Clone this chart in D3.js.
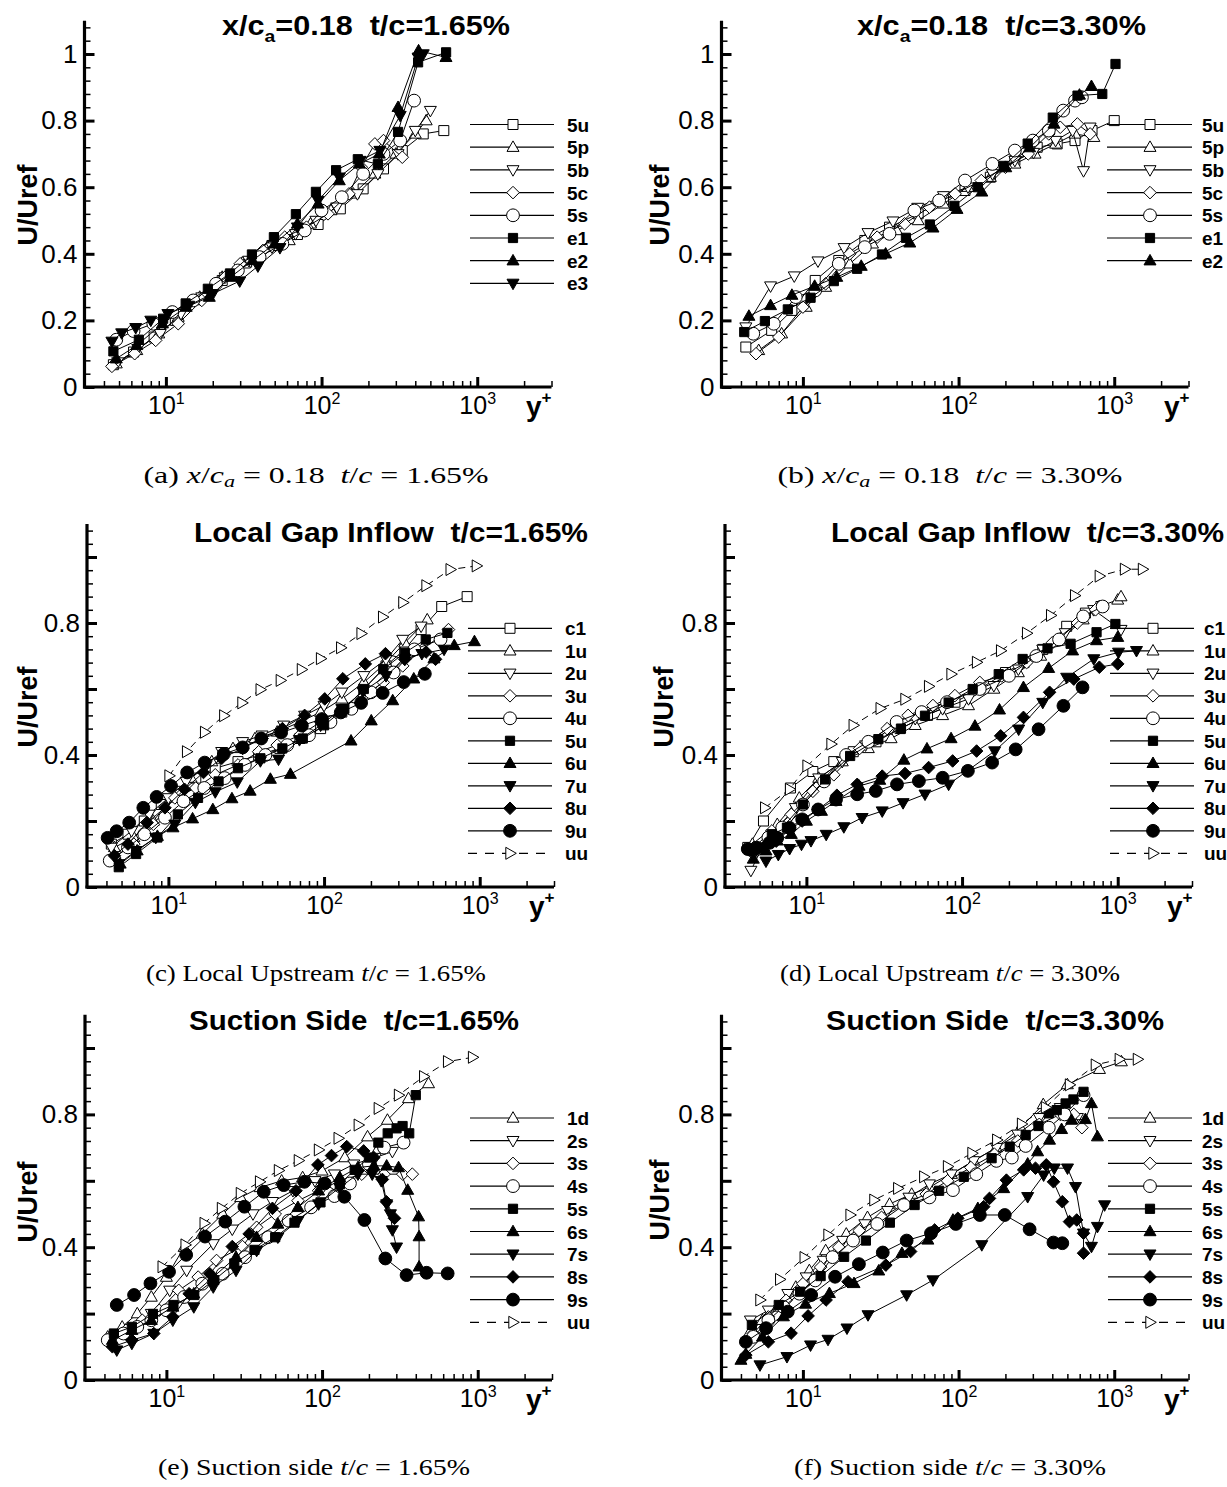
<!DOCTYPE html>
<html><head><meta charset="utf-8">
<script src="https://cdn.jsdelivr.net/npm/d3@7"></script>
<style>body{margin:0;background:#fff} svg{display:block} text{white-space:pre}</style>
</head><body>
<svg id="c" width="1227" height="1487"></svg>
<script>
// ---------------- DATA ([y+, U/Uref]) ----------------
// (a) x/c_a=0.18  t/c=1.65%
const A_5u=[[4.6,0.067],[6.2,0.105],[8.4,0.15],[11.5,0.2],[16,0.262],[23,0.32],[33,0.375],[48,0.425],[70,0.458],[95,0.488],[132,0.535],[185,0.595],[250,0.655],[330,0.71],[450,0.76],[610,0.77]];
const A_5p=[[4.8,0.07],[6.5,0.11],[9,0.16],[12,0.21],[16.5,0.27],[23,0.33],[32,0.37],[45,0.42],[62,0.44],[85,0.49],[115,0.53],[160,0.58],[220,0.64],[300,0.7],[400,0.76],[470,0.8]];
const A_5b=[[4.9,0.075],[6.6,0.115],[9.2,0.16],[12.5,0.22],[17,0.27],[24,0.33],[34,0.38],[48,0.42],[68,0.46],[92,0.5],[125,0.54],[170,0.58],[230,0.64],[310,0.7],[400,0.77],[500,0.83]];
const A_5c=[[4.5,0.062],[6.3,0.1],[8.6,0.14],[12,0.19],[17,0.26],[24,0.33],[30,0.37],[42,0.41],[58,0.45],[80,0.48],[110,0.52],[150,0.58],[180,0.66],[220,0.73],[250,0.74],[330,0.69]];
const A_5s=[[4.8,0.142],[6.2,0.168],[8.3,0.19],[11,0.225],[15,0.26],[21,0.31],[29,0.35],[40,0.39],[56,0.43],[78,0.47],[100,0.53],[135,0.57],[185,0.64],[250,0.7],[320,0.74],[393,0.86]];
const A_e1=[[4.6,0.107],[6.7,0.142],[9.6,0.205],[13.4,0.251],[18.6,0.295],[25.8,0.341],[35.7,0.398],[49.4,0.45],[68.4,0.519],[92,0.586],[124,0.651],[171,0.684],[230,0.669],[310,0.766],[417,0.975],[631,1.005]];
const A_e2=[[4.8,0.085],[6.5,0.125],[9.5,0.19],[13.5,0.24],[19,0.27],[26,0.33],[36,0.38],[50,0.43],[70,0.49],[95,0.55],[130,0.62],[175,0.67],[235,0.7],[310,0.84],[420,1.01],[630,0.99]];
const A_e3=[[4.5,0.137],[5.2,0.162],[6.4,0.178],[8,0.2],[10.3,0.22],[14,0.245],[20,0.28],[29.8,0.318],[39,0.363],[54,0.418],[70,0.48],[95,0.56],[130,0.63],[177,0.68],[237,0.71],[320,0.815],[417,0.99],[450,1.0]];
// (b) x/c_a=0.18  t/c=3.30%
const B_5u=[[4.3,0.12],[6.3,0.17],[8.5,0.23],[12,0.32],[17,0.38],[25,0.44],[36,0.48],[55,0.52],[80,0.56],[110,0.59],[160,0.63],[230,0.68],[320,0.72],[430,0.73],[560,0.74],[720,0.77],[1000,0.8]];
const B_5p=[[5.2,0.11],[7.3,0.16],[10.5,0.24],[14,0.3],[20,0.37],[28,0.43],[40,0.47],[55,0.5],[80,0.55],[115,0.6],[160,0.63],[230,0.67],[310,0.7],[420,0.73],[560,0.76],[740,0.75]];
const B_5b=[[4.3,0.18],[6.2,0.303],[8.8,0.333],[12.5,0.378],[18.4,0.418],[26.2,0.463],[37.9,0.498],[54.7,0.539],[80,0.574],[115,0.6],[165,0.64],[230,0.68],[303,0.704],[420,0.74],[540,0.77],[635,0.649],[700,0.78]];
const B_5c=[[5,0.1],[7,0.15],[10,0.24],[14,0.31],[20,0.4],[30,0.45],[45,0.49],[65,0.54],[95,0.58],[140,0.62],[200,0.66],[280,0.7],[380,0.76],[450,0.78],[580,0.79],[700,0.76]];
const B_5s=[[4.8,0.16],[6.5,0.19],[9,0.27],[12,0.29],[17,0.37],[25,0.42],[36,0.46],[52,0.53],[75,0.56],[110,0.62],[165,0.67],[230,0.71],[300,0.74],[380,0.77],[470,0.83],[560,0.86],[620,0.87]];
const B_e1=[[4.2,0.165],[5.7,0.198],[8,0.233],[11.2,0.268],[15.8,0.318],[22.3,0.355],[32.2,0.398],[45.9,0.448],[65.4,0.488],[94,0.544],[133,0.6],[195,0.664],[278,0.731],[403,0.809],[581,0.875],[838,0.88],[1019,0.97]];
const B_e2=[[4.5,0.213],[6.2,0.245],[8.5,0.276],[11.9,0.303],[16.5,0.33],[23.7,0.363],[34,0.4],[48.6,0.433],[68.5,0.478],[97.7,0.534],[141,0.586],[201,0.659],[286,0.719],[410,0.79],[598,0.877],[714,0.903]];
// (c) Local gap inflow t/c=1.65%
const C_c1=[[4.3,0.13],[5.5,0.16],[7,0.2],[9,0.25],[11.5,0.29],[15,0.33],[20,0.36],[28,0.38],[38,0.4],[52,0.42],[70,0.45],[95,0.48],[130,0.53],[180,0.6],[250,0.67],[330,0.72],[420,0.78],[570,0.85],[830,0.88]];
const C_1u=[[4.5,0.12],[6,0.15],[8,0.2],[10.5,0.27],[14,0.33],[19,0.38],[26,0.42],[36,0.45],[50,0.47],[70,0.5],[95,0.53],[130,0.57],[180,0.62],[250,0.68],[330,0.74],[460,0.81]];
const C_2u=[[4.3,0.12],[5.8,0.17],[7.5,0.22],[10,0.27],[13,0.32],[17.5,0.37],[22,0.41],[30,0.44],[40,0.46],[55,0.49],[75,0.52],[100,0.55],[130,0.59],[180,0.64],[250,0.69],[320,0.75],[420,0.79]];
const C_3u=[[4.5,0.09],[6,0.13],[8,0.19],[11,0.27],[15,0.3],[20,0.34],[28,0.37],[38,0.41],[50,0.43],[70,0.46],[95,0.5],[130,0.53],[180,0.58],[240,0.62],[320,0.67],[430,0.72],[630,0.78]];
const C_4u=[[4.2,0.08],[5.5,0.12],[7,0.16],[9.5,0.21],[12.5,0.26],[17,0.3],[23,0.33],[31,0.37],[42,0.4],[58,0.43],[80,0.46],[110,0.5],[150,0.54],[200,0.59],[280,0.65],[380,0.72],[560,0.75]];
const C_5u=[[4.8,0.06],[6.2,0.1],[8.5,0.15],[11.5,0.22],[15.5,0.27],[21,0.32],[28,0.36],[39,0.39],[54,0.42],[73,0.45],[100,0.49],[135,0.54],[180,0.6],[240,0.66],[330,0.71],[450,0.75],[620,0.77]];
const C_6u=[[4.9,0.07],[6.3,0.11],[8.5,0.154],[10.7,0.18],[14.3,0.207],[19.3,0.235],[25.6,0.268],[33.5,0.291],[45.2,0.327],[60.8,0.342],[149,0.443],[201,0.504],[276,0.565],[377,0.631],[508,0.692],[686,0.732],[925,0.744]];
const C_7u=[[4.8,0.07],[6.2,0.11],[8.3,0.15],[11,0.19],[14.9,0.256],[20,0.288],[27.7,0.318],[39,0.382],[51,0.387],[69.5,0.446],[95,0.49],[130,0.54],[178,0.592],[250,0.64],[330,0.69],[425,0.707],[590,0.72]];
const C_8u=[[4.5,0.095],[5.5,0.13],[7.3,0.195],[9.5,0.24],[12.7,0.296],[16.8,0.347],[22,0.39],[30,0.42],[40,0.45],[54,0.48],[75,0.52],[101,0.57],[132,0.631],[184,0.676],[248,0.707],[330,0.69],[452,0.712],[520,0.69]];
const C_9u=[[4.07,0.149],[4.65,0.169],[5.6,0.195],[6.9,0.24],[8.4,0.273],[10.4,0.306],[13.2,0.347],[17.1,0.377],[22.7,0.403],[30,0.423],[39.5,0.45],[53,0.468],[72,0.489],[97,0.509],[128,0.529],[173,0.558],[238,0.588],[325,0.621],[444,0.646]];
const C_uu=[[10.1,0.337],[13.1,0.41],[17.1,0.469],[22.7,0.519],[29.7,0.558],[38.9,0.598],[52.4,0.626],[71.6,0.659],[95,0.692],[128,0.725],[173,0.768],[238,0.818],[321,0.862],[452,0.913],[646,0.962],[952,0.973]];
// (d) Local gap inflow t/c=3.30%
const D_c1=[[4.2,0.12],[5.3,0.2],[7.9,0.3],[11,0.35],[15,0.38],[20,0.41],[28,0.44],[40,0.48],[60,0.52],[90,0.56],[130,0.6],[190,0.65],[250,0.68],[330,0.72],[470,0.79],[620,0.83],[780,0.85]];
const D_1u=[[4.5,0.13],[6.5,0.19],[9,0.27],[12,0.33],[17,0.38],[25,0.42],[35,0.45],[50,0.49],[75,0.52],[110,0.55],[160,0.6],[230,0.65],[320,0.7],[430,0.75],[600,0.81],[760,0.85],[1000,0.87],[1050,0.88]];
const D_2u=[[4.4,0.05],[5.2,0.12],[6,0.16],[8.5,0.24],[12,0.33],[17,0.38],[24,0.43],[35,0.48],[50,0.51],[75,0.54],[110,0.57],[160,0.61],[230,0.66],[330,0.72],[460,0.77],[700,0.84],[1050,0.78]];
const D_3u=[[4.6,0.12],[6,0.17],[8,0.22],[11,0.29],[15,0.34],[22,0.42],[33,0.48],[45,0.52],[65,0.55],[90,0.58],[130,0.62],[180,0.64],[260,0.68],[380,0.74],[550,0.8],[720,0.84]];
const D_4u=[[4.5,0.11],[5.7,0.15],[7,0.18],[9.5,0.25],[13,0.32],[18,0.4],[25,0.44],[38,0.5],[55,0.53],[80,0.56],[130,0.6],[200,0.64],[300,0.7],[420,0.75],[600,0.82],[800,0.85]];
const D_5u=[[4.5,0.11],[6,0.16],[7.5,0.18],[9.5,0.25],[13.2,0.326],[19.1,0.397],[29,0.448],[40.5,0.48],[57.8,0.519],[82,0.559],[117,0.6],[172,0.645],[245,0.691],[354,0.723],[498,0.737],[731,0.772],[966,0.797]];
const D_6u=[[4.56,0.085],[5.5,0.11],[6.5,0.14],[8,0.16],[10,0.2],[12.5,0.23],[15.5,0.26],[21.8,0.306],[29.6,0.324],[42.3,0.385],[59.5,0.419],[85,0.45],[121,0.488],[174,0.537],[248,0.605],[360,0.663],[513,0.716],[731,0.747],[1000,0.757]];
const D_7u=[[5.5,0.078],[6.6,0.098],[7.8,0.116],[9.3,0.129],[10.7,0.14],[13.4,0.159],[17.4,0.182],[22.8,0.21],[30.7,0.23],[41.8,0.255],[57.8,0.281],[82,0.311],[162,0.412],[231,0.478],[330,0.559],[470,0.635],[702,0.691],[1012,0.711],[1320,0.716]];
const D_8u=[[4.4,0.113],[5.3,0.119],[6.4,0.139],[7.8,0.174],[9.4,0.2],[11.9,0.235],[15.7,0.278],[21.2,0.311],[30.7,0.336],[43,0.344],[61,0.362],[87,0.382],[124,0.412],[177,0.458],[248,0.514],[365,0.59],[522,0.63],[762,0.666],[1000,0.676]];
const D_9u=[[4.2,0.115],[4.8,0.119],[5.8,0.134],[6.5,0.149],[7.8,0.179],[9.4,0.205],[11.9,0.235],[15.5,0.265],[21.2,0.281],[27.9,0.291],[38.2,0.311],[52.8,0.321],[75,0.331],[109,0.352],[156,0.377],[221,0.417],[310,0.478],[448,0.549],[594,0.605]];
const D_uu=[[5.4,0.24],[7.8,0.296],[10.1,0.367],[14.4,0.433],[20,0.49],[29.8,0.541],[43,0.569],[61,0.608],[85,0.645],[124,0.681],[177,0.716],[260,0.769],[371,0.823],[529,0.883],[762,0.942],[1106,0.963],[1443,0.963]];
// (e) Suction side t/c=1.65%
const E_1d=[[4.2,0.13],[5.2,0.16],[6.5,0.2],[8,0.25],[10,0.31],[13,0.4],[17,0.44],[23,0.5],[30,0.55],[40,0.58],[55,0.6],[75,0.61],[100,0.63],[140,0.67],[196,0.733],[263,0.783],[359,0.848],[483,0.893]];
const E_2s=[[4.5,0.12],[6,0.15],[8,0.2],[10.5,0.27],[13.5,0.33],[20,0.41],[26.5,0.454],[36,0.5],[48,0.537],[65,0.57],[90,0.6],[120,0.62],[160,0.65],[220,0.67],[283,0.688]];
const E_3s=[[4.4,0.13],[5.5,0.15],[7,0.18],[9,0.21],[12,0.27],[16,0.31],[21,0.36],[30.8,0.402],[38,0.46],[50,0.5],[70,0.54],[95,0.57],[130,0.6],[180,0.62],[250,0.62],[330,0.62],[380,0.62]];
const E_4s=[[4.2,0.12],[5.3,0.14],[6.5,0.16],[8,0.18],[10,0.21],[13,0.25],[17,0.29],[23,0.32],[32,0.37],[45,0.43],[61,0.48],[85,0.52],[120,0.554],[151,0.592],[200,0.65],[250,0.7],[334,0.715]];
const E_5s=[[4.6,0.14],[6,0.16],[8.2,0.199],[11.1,0.226],[15.1,0.256],[20.3,0.301],[27.3,0.351],[36.8,0.392],[50,0.43],[66.5,0.474],[97.7,0.535],[130,0.59],[162,0.633],[200,0.67],[230,0.715],[264,0.743],[301,0.758],[329,0.765],[363,0.743],[400,0.858]];
const E_6s=[[4.5,0.12],[6,0.15],[8,0.18],[11,0.22],[15,0.26],[20,0.31],[28,0.37],[38,0.43],[52,0.47],[70,0.52],[95,0.57],[130,0.61],[170,0.64],[215,0.645],[260,0.645],[310,0.64],[355,0.572],[417,0.492],[420,0.432],[420,0.341]];
const E_7s=[[4.8,0.09],[6,0.11],[8.3,0.14],[11,0.18],[15,0.22],[20,0.28],[28,0.33],[38,0.39],[52,0.43],[70,0.48],[95,0.53],[130,0.58],[170,0.62],[210,0.62],[240,0.6],[260,0.53],[275,0.5],[283,0.452],[301,0.4]];
const E_8s=[[4.5,0.1],[6,0.12],[8.3,0.14],[11,0.19],[14,0.26],[19,0.32],[26.5,0.402],[34,0.44],[48,0.517],[68,0.57],[94,0.648],[115,0.676],[144,0.703],[185,0.69],[215,0.67],[244,0.604],[259,0.537],[292,0.487]];
const E_9s=[[4.8,0.226],[6.2,0.256],[7.9,0.291],[10.4,0.326],[13.4,0.377],[17.7,0.432],[23.9,0.477],[31.7,0.522],[42.2,0.567],[56.7,0.587],[77,0.597],[104,0.592],[139,0.552],[187,0.482],[255,0.366],[349,0.316],[469,0.323],[641,0.321]];
const E_uu=[[9.4,0.341],[13.2,0.407],[17.5,0.472],[22.6,0.517],[29.9,0.562],[39.7,0.597],[52.5,0.631],[70.5,0.661],[94.9,0.693],[127,0.728],[171,0.768],[230,0.818],[310,0.858],[450,0.914],[641,0.959],[927,0.972]];
// (f) Suction side t/c=3.30%
const F_1d=[[4.5,0.14],[5.5,0.18],[7,0.22],[9,0.28],[11,0.33],[14,0.39],[19,0.44],[26,0.49],[36,0.53],[50,0.56],[65,0.58],[90,0.62],[125,0.66],[175,0.7],[250,0.76],[350,0.83],[500,0.89],[804,0.936],[1112,0.959]];
const F_2s=[[4.6,0.18],[6,0.21],[8,0.26],[10.5,0.31],[13.5,0.36],[18,0.42],[25,0.47],[35,0.51],[48,0.55],[65,0.59],[90,0.62],[125,0.66],[175,0.7],[240,0.74],[330,0.79],[450,0.82],[580,0.79]];
const F_3s=[[4.8,0.14],[6,0.19],[7.8,0.24],[10,0.29],[13,0.34],[17,0.4],[23,0.45],[32,0.49],[45,0.53],[62,0.56],[85,0.6],[120,0.64],[170,0.68],[240,0.72],[330,0.77],[450,0.8],[550,0.8],[620,0.76]];
const F_4s=[[4.8,0.13],[6,0.18],[7.5,0.22],[9.5,0.26],[12,0.3],[15.5,0.37],[21,0.42],[30,0.47],[44.6,0.527],[65,0.55],[92,0.572],[130,0.62],[175,0.66],[220,0.67],[270,0.705],[380,0.76],[480,0.8],[635,0.858]];
const F_5s=[[4.7,0.166],[7,0.226],[9.6,0.266],[13,0.313],[18.4,0.371],[25.4,0.42],[36.2,0.474],[52.2,0.527],[75,0.57],[108,0.612],[163,0.668],[213,0.703],[270,0.738],[326,0.765],[380,0.803],[427,0.813],[487,0.833],[547,0.845],[635,0.868]];
const F_6s=[[4,0.06],[4.3,0.078],[5.5,0.13],[7.5,0.191],[10.4,0.229],[14.8,0.261],[21.3,0.291],[30.7,0.329],[43.3,0.382],[63.5,0.422],[92,0.482],[133,0.517],[195,0.577],[278,0.651],[322,0.688],[384,0.723],[459,0.755],[532,0.783],[653,0.785],[714,0.833],[780,0.733]];
const F_7s=[[5.3,0.045],[7.9,0.07],[11.2,0.105],[14.5,0.122],[19.2,0.156],[26.2,0.196],[46.4,0.256],[68.5,0.301],[141,0.407],[278,0.552],[352,0.617],[412,0.638],[501,0.638],[564,0.582],[635,0.442],[714,0.402],[780,0.462],[867,0.527]];
const F_8s=[[4.3,0.075],[6,0.115],[8.4,0.141],[10.8,0.193],[14.1,0.241],[19.5,0.296],[34.1,0.346],[49.2,0.387],[70.2,0.452],[98.9,0.487],[145,0.522],[158,0.547],[203,0.602],[262,0.633],[312,0.638],[366,0.648],[407,0.597],[464,0.537],[516,0.477],[574,0.482],[635,0.442],[635,0.382]];
const F_9s=[[4.3,0.115],[5.8,0.156],[8,0.206],[11.3,0.256],[16.1,0.311],[22.9,0.349],[32.6,0.384],[46.4,0.42],[66.5,0.442],[96,0.47],[137,0.497],[198,0.497],[286,0.454],[407,0.414],[464,0.412]];
const F_uu=[[5.3,0.241],[7.1,0.303],[10.2,0.369],[14.5,0.437],[20.1,0.497],[28.6,0.542],[40.7,0.577],[59.8,0.612],[85,0.643],[122,0.683],[176,0.723],[254,0.771],[362,0.821],[516,0.889],[757,0.949],[1079,0.966],[1410,0.966]];

// tick values
const xMajor=[10,100,1000];
const xMinor=[4,5,6,7,8,9,20,30,40,50,60,70,80,90,200,300,400,500,600,700,800,900,2000,3000];
const yMajor=[0,0.2,0.4,0.6,0.8,1.0];
const yLabelTop=[0,0.2,0.4,0.6,0.8,1.0];
const yLabelLow=[0,0.4,0.8];
const yMinor=d3.range(0,1.1,0.04).filter(v=>Math.abs(v/0.2-Math.round(v/0.2))>1e-6);

// series styles
const S = {
  sq:{shape:'square',fill:false}, tu:{shape:'triUp',fill:false}, td:{shape:'triDown',fill:false},
  di:{shape:'diamond',fill:false}, ci:{shape:'circle',fill:false},
  SQ:{shape:'square',fill:true}, TU:{shape:'triUp',fill:true}, TD:{shape:'triDown',fill:true},
  DI:{shape:'diamond',fill:true}, CI:{shape:'circle',fill:true}, uu:{shape:'triRight',fill:false,dash:true}
};

const panels=[
 {title:[['x/c',''],['a','sub'],['=0.18  t/c=1.65%','']], tx:222, tw:288, ty:35,
  left:84.5, y0:387, pu:333, labels:yLabelTop, leg:{l1:470,l2:554,m:513,t:567,y:124.5,dy:22.7},
  ylab:[28,205], yp:[526,416],
  cap:[['(a) ',''],['x','i'],['/',''],['c','i'],['a','isub'],[' = 0.18  ',''],['t','i'],['/',''],['c','i'],[' = 1.65%','']], cx:316, cy:483, cw:345,
  series:[['5u',A_5u,S.sq],['5p',A_5p,S.tu],['5b',A_5b,S.td],['5c',A_5c,S.di],['5s',A_5s,S.ci],['e1',A_e1,S.SQ],['e2',A_e2,S.TU],['e3',A_e3,S.TD]]},
 {title:[['x/c',''],['a','sub'],['=0.18  t/c=3.30%','']], tx:857, tw:289, ty:35,
  left:721.5, y0:387, pu:333, labels:yLabelTop, leg:{l1:1107,l2:1192,m:1150,t:1202,y:124.5,dy:22.7},
  ylab:[660,205], yp:[1164,416],
  cap:[['(b) ',''],['x','i'],['/',''],['c','i'],['a','isub'],[' = 0.18  ',''],['t','i'],['/',''],['c','i'],[' = 3.30%','']], cx:950, cy:483, cw:345,
  series:[['5u',B_5u,S.sq],['5p',B_5p,S.tu],['5b',B_5b,S.td],['5c',B_5c,S.di],['5s',B_5s,S.ci],['e1',B_e1,S.SQ],['e2',B_e2,S.TU]]},
 {title:[['Local Gap Inflow  t/c=1.65%','']], tx:194, tw:394, ty:542,
  left:87, y0:887, pu:330, labels:yLabelLow, leg:{l1:468,l2:552,m:510,t:565,y:628.3,dy:22.5},
  ylab:[28,707], yp:[529,916],
  cap:[['(c) Local Upstream ',''],['t','i'],['/',''],['c','i'],[' = 1.65%','']], cx:316, cy:981, cw:340,
  series:[['c1',C_c1,S.sq],['1u',C_1u,S.tu],['2u',C_2u,S.td],['3u',C_3u,S.di],['4u',C_4u,S.ci],['5u',C_5u,S.SQ],['6u',C_6u,S.TU],['7u',C_7u,S.TD],['8u',C_8u,S.DI],['9u',C_9u,S.CI],['uu',C_uu,S.uu]]},
 {title:[['Local Gap Inflow  t/c=3.30%','']], tx:831, tw:393, ty:542,
  left:725, y0:887, pu:330, labels:yLabelLow, leg:{l1:1110,l2:1194,m:1153,t:1204,y:628.3,dy:22.5},
  ylab:[664,707], yp:[1167,916],
  cap:[['(d) Local Upstream ',''],['t','i'],['/',''],['c','i'],[' = 3.30%','']], cx:950, cy:981, cw:340,
  series:[['c1',D_c1,S.sq],['1u',D_1u,S.tu],['2u',D_2u,S.td],['3u',D_3u,S.di],['4u',D_4u,S.ci],['5u',D_5u,S.SQ],['6u',D_6u,S.TU],['7u',D_7u,S.TD],['8u',D_8u,S.DI],['9u',D_9u,S.CI],['uu',D_uu,S.uu]]},
 {title:[['Suction Side  t/c=1.65%','']], tx:189, tw:330, ty:1030,
  left:85, y0:1380, pu:332, labels:yLabelLow, leg:{l1:470,l2:554,m:513,t:567,y:1118,dy:22.7},
  ylab:[28,1202], yp:[526,1409],
  cap:[['(e) Suction side ',''],['t','i'],['/',''],['c','i'],[' = 1.65%','']], cx:314, cy:1475, cw:312,
  series:[['1d',E_1d,S.tu],['2s',E_2s,S.td],['3s',E_3s,S.di],['4s',E_4s,S.ci],['5s',E_5s,S.SQ],['6s',E_6s,S.TU],['7s',E_7s,S.TD],['8s',E_8s,S.DI],['9s',E_9s,S.CI],['uu',E_uu,S.uu]]},
 {title:[['Suction Side  t/c=3.30%','']], tx:826, tw:338, ty:1030,
  left:721.5, y0:1380, pu:332, labels:yLabelLow, leg:{l1:1108,l2:1192,m:1150,t:1202,y:1118,dy:22.7},
  ylab:[660,1200], yp:[1164,1409],
  cap:[['(f) Suction side ',''],['t','i'],['/',''],['c','i'],[' = 3.30%','']], cx:950, cy:1475, cw:312,
  series:[['1d',F_1d,S.tu],['2s',F_2s,S.td],['3s',F_3s,S.di],['4s',F_4s,S.ci],['5s',F_5s,S.SQ],['6s',F_6s,S.TU],['7s',F_7s,S.TD],['8s',F_8s,S.DI],['9s',F_9s,S.CI],['uu',F_uu,S.uu]]}
];

function markerPath(st){
  switch(st.shape){
    case 'square': return st.fill?'M-4.6,-4.6H4.6V4.6H-4.6Z':'M-5,-5H5V5H-5Z';
    case 'triUp': return 'M0,-6.3L6,4.2L-6,4.2Z';
    case 'triDown': return 'M0,6.3L6,-4.2L-6,-4.2Z';
    case 'diamond': return 'M0,-6.3L6.3,0L0,6.3L-6.3,0Z';
    case 'circle': return 'M6.4,0A6.4,6.4 0 1,1 -6.4,0A6.4,6.4 0 1,1 6.4,0Z';
    case 'triRight': return 'M6.3,0L-4.2,-6L-4.2,6Z';
  }
}
function drawMarker(g,st,x,y){
  g.append('path').attr('d',markerPath(st)).attr('transform',`translate(${x},${y})`)
   .attr('fill',st.fill?'#000':'#fff').attr('stroke','#000').attr('stroke-width',1);
}

const svg=d3.select('#c');
const FONT='"Liberation Sans", Arial, sans-serif';

panels.forEach(p=>{
  const W=467;
  const x=d3.scaleLog().domain([3,3000]).range([p.left,p.left+W]);
  const y=d3.scaleLinear().domain([0,1.1]).range([p.y0,p.y0-1.1*p.pu]);
  const g=svg.append('g');

  // minor ticks
  g.append('g').attr('transform',`translate(${p.left},0)`)
   .call(d3.axisLeft(y).tickValues(yMinor).tickSize(-6).tickFormat(''))
   .call(s=>{s.select('.domain').remove(); s.selectAll('line').attr('stroke-width',1.5);});
  g.append('g').attr('transform',`translate(0,${p.y0})`)
   .call(d3.axisBottom(x).tickValues(xMinor).tickSize(-6).tickFormat(''))
   .call(s=>{s.select('.domain').remove(); s.selectAll('line').attr('stroke-width',1.5);});
  // major y
  g.append('g').attr('transform',`translate(${p.left},0)`)
   .call(d3.axisLeft(y).tickValues(yMajor).tickSize(-10).tickSizeOuter(0).tickPadding(7)
        .tickFormat(v=>p.labels.some(l=>Math.abs(l-v)<1e-9)?d3.format('')(+v.toFixed(1)):''))
   .call(s=>{
     s.select('.domain').attr('stroke-width',3.2).attr('d',`M0,${y(1.1)}V${p.y0+1.5}`);
     s.selectAll('line').attr('stroke-width',3);
     s.selectAll('text').attr('font-family',FONT).attr('font-size',26).attr('fill','#000');
   });
  // major x
  g.append('g').attr('transform',`translate(0,${p.y0})`)
   .call(d3.axisBottom(x).tickValues(xMajor).tickSize(-10).tickSizeOuter(0).tickPadding(9).tickFormat(()=>''))
   .call(s=>{
     s.select('.domain').attr('stroke-width',3.2).attr('d',`M${p.left-1.5},0H${p.left+W}`);
     s.selectAll('line').attr('stroke-width',3);
     s.selectAll('.tick text').each(function(d){
       const t=d3.select(this).attr('font-family',FONT).attr('font-size',25).attr('fill','#000').attr('dy','0.71em');
       t.text(null);
       t.append('tspan').text('10');
       t.append('tspan').attr('font-size',16).attr('dy',-10).text(Math.round(Math.log10(d)));
     });
   });

  // series
  const line=d3.line().x(d=>x(d[0])).y(d=>y(d[1]));
  p.series.forEach(([name,data,st])=>{
    const sg=g.append('g');
    sg.append('path').attr('d',line(data)).attr('fill','none').attr('stroke','#000')
      .attr('stroke-width',1).attr('stroke-dasharray',st.dash?'7,5':null);
    data.forEach(d=>drawMarker(sg,st,x(d[0]),y(d[1])));
  });

  // legend
  p.series.forEach(([name,data,st],i)=>{
    const ly=p.leg.y+i*p.leg.dy;
    g.append('line').attr('x1',p.leg.l1).attr('x2',p.leg.l2).attr('y1',ly).attr('y2',ly)
      .attr('stroke','#000').attr('stroke-width',1.2).attr('stroke-dasharray',st.dash?'9,8':null);
    drawMarker(g,st,p.leg.m,ly);
    g.append('text').attr('x',p.leg.t).attr('y',ly+7).attr('font-family',FONT).attr('font-weight','bold')
      .attr('font-size',19).text(name);
  });

  // title
  const tt=g.append('text').attr('x',p.tx).attr('y',p.ty).attr('font-family',FONT).attr('font-weight','bold')
    .attr('font-size',27).attr('textLength',p.tw).attr('lengthAdjust','spacingAndGlyphs');
  p.title.forEach(([txt,k],i)=>{
    if(k==='sub'){ tt.append('tspan').attr('font-size',17).attr('dy',7).text(txt); }
    else { const ts=tt.append('tspan').text(txt); if(i>0 && p.title[i-1][1]==='sub') ts.attr('dy',-7); }
  });

  // y label
  g.append('text').attr('transform',`translate(${p.ylab[0]},${p.ylab[1]}) rotate(-90)`)
    .attr('text-anchor','middle').attr('dy','0.35em').attr('font-family',FONT).attr('font-weight','bold')
    .attr('font-size',27).text('U/Uref');
  // x label
  const xl=g.append('text').attr('x',p.yp[0]).attr('y',p.yp[1]).attr('font-family',FONT).attr('font-weight','bold').attr('font-size',28);
  xl.append('tspan').text('y');
  xl.append('tspan').attr('font-size',17).attr('dy',-13).text('+');

  // caption
  const ct=svg.append('text').attr('x',p.cx).attr('y',p.cy).attr('text-anchor','middle')
    .attr('font-family','"Liberation Serif", "DejaVu Serif", serif').attr('font-size',23)
    .attr('textLength',p.cw).attr('lengthAdjust','spacingAndGlyphs');
  let sub=false;
  p.cap.forEach(([txt,k])=>{
    const ts=ct.append('tspan').text(txt);
    if(k==='i'||k==='isub') ts.attr('font-style','italic');
    if(k==='isub'){ ts.attr('font-size',16).attr('dy',4); sub=true; }
    else if(sub){ ts.attr('dy',-4); sub=false; }
  });
});
</script>
</body></html>
